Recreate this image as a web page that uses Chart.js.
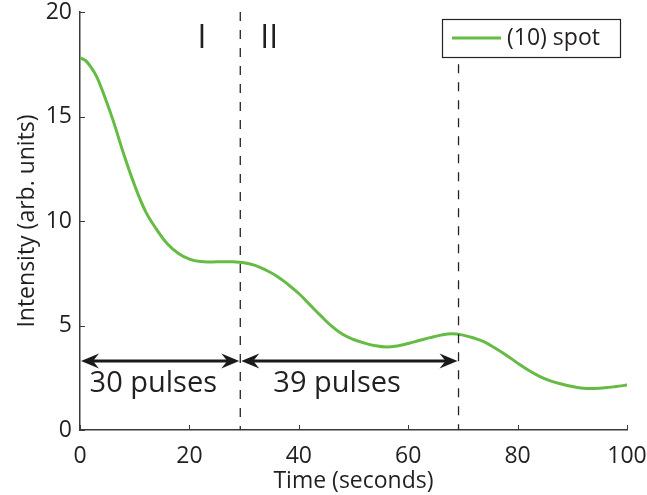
<!DOCTYPE html>
<html>
<head>
<meta charset="utf-8">
<script src="https://cdn.jsdelivr.net/npm/chart.js@4.4.0/dist/chart.umd.min.js"></script>
<style>
html,body{margin:0;padding:0;background:#fff;}
#wrap{width:647px;height:495px;}
</style>
</head>
<body>
<div id="wrap"><canvas id="c" width="647" height="495"></canvas></div>
<script>
// ---- data ----
const timeValues = [0,1,2,3,4,6,8,10,12,14,16,18,20,22,24,26,28,30,32,34,36,38,40,42,44,46,48,50,52,54,56,58,60,62,64,66,68,70,72,74,76,78,80,82,84,86,88,90,92,94,96,98,100];
const intensityValues = [17.8,17.68,17.36,16.93,16.3,14.85,13.2,11.7,10.45,9.6,8.9,8.45,8.18,8.06,8.04,8.05,8.05,8.0,7.88,7.65,7.36,6.97,6.53,6.0,5.47,4.97,4.58,4.33,4.16,4.03,3.97,4.02,4.14,4.28,4.42,4.54,4.6,4.54,4.4,4.2,3.9,3.57,3.2,2.86,2.57,2.35,2.2,2.08,2.0,1.99,2.02,2.08,2.15];
const seriesLabel = '(10) spot';
const xTicks = [0,20,40,60,80,100];
const yTicks = [0,5,10,15,20];
const boundaryX = [29.3, 69.2];
const boundaryTop = [20, 17.5];
const arrowY = 3.3;
const arrowSpans = [[0, 29.3], [29.3, 69.2]];
const regionLabels = [{text:'I', x:22.3, y:18.7}, {text:'II', x:34.6, y:18.7}];
const pulseLabels = [{text:'30 pulses', x:13.4, y:2.2}, {text:'39 pulses', x:47.0, y:2.2}];

const FONT = "'Open Sans', sans-serif";
const TXT = '#231f20';
const AX = '#3a3a3a';
const GREEN = '#66bb44';

const overlay = {
  id: 'overlay',
  afterDatasetsDraw(chart) {
    const ctx = chart.ctx, xs = chart.scales.x, ys = chart.scales.y, ca = chart.chartArea;
    ctx.save();
    // inward ticks
    ctx.strokeStyle = AX; ctx.lineWidth = 1;
    xTicks.forEach(v => { const px = Math.round(xs.getPixelForValue(v)) + 0.5; ctx.beginPath(); ctx.moveTo(px, ca.bottom); ctx.lineTo(px, ca.bottom - 5); ctx.stroke(); });
    yTicks.forEach(v => { const py = Math.round(ys.getPixelForValue(v)) + 0.5; ctx.beginPath(); ctx.moveTo(ca.left, py); ctx.lineTo(ca.left + 5, py); ctx.stroke(); });
    // dashed boundaries
    ctx.strokeStyle = '#222'; ctx.lineWidth = 1.3; ctx.setLineDash([9, 9]);
    boundaryX.forEach((bx, i) => {
      const px = xs.getPixelForValue(bx);
      ctx.beginPath(); ctx.moveTo(px, ys.getPixelForValue(boundaryTop[i])); ctx.lineTo(px, ys.getPixelForValue(0)); ctx.stroke();
    });
    ctx.setLineDash([]);
    // arrows
    const ay = ys.getPixelForValue(arrowY);
    ctx.strokeStyle = '#1a1a1a'; ctx.fillStyle = '#1a1a1a'; ctx.lineWidth = 3;
    const head = (tipX, dir) => {
      const L = 18, W = 7.5, N = 12;
      ctx.beginPath();
      ctx.moveTo(tipX, ay);
      ctx.lineTo(tipX + dir * L, ay - W);
      ctx.lineTo(tipX + dir * N, ay);
      ctx.lineTo(tipX + dir * L, ay + W);
      ctx.closePath(); ctx.fill();
    };
    arrowSpans.forEach(s => {
      const x1 = xs.getPixelForValue(s[0]) + 1, x2 = xs.getPixelForValue(s[1]) - 1;
      ctx.beginPath(); ctx.moveTo(x1 + 8, ay); ctx.lineTo(x2 - 8, ay); ctx.stroke();
      head(x1, 1); head(x2, -1);
    });
    // texts
    ctx.fillStyle = TXT; ctx.textAlign = 'center'; ctx.textBaseline = 'middle';
    ctx.font = "32px " + FONT;
    regionLabels.forEach(t => ctx.fillText(t.text, xs.getPixelForValue(t.x), ys.getPixelForValue(t.y)));
    ctx.font = "29px " + FONT;
    pulseLabels.forEach(t => ctx.fillText(t.text, xs.getPixelForValue(t.x), ys.getPixelForValue(t.y)));
    // legend box
    const bx = ca.right - 185, by = ca.top + 7, bw = 178, bh = 38;
    ctx.fillStyle = '#fff'; ctx.fillRect(bx, by, bw, bh);
    ctx.strokeStyle = '#222'; ctx.lineWidth = 1.2; ctx.strokeRect(bx + 0.5, by + 0.5, bw, bh);
    ctx.strokeStyle = GREEN; ctx.lineWidth = 3;
    ctx.beginPath(); ctx.moveTo(bx + 10, by + 19); ctx.lineTo(bx + 59, by + 19); ctx.stroke();
    ctx.fillStyle = TXT; ctx.textAlign = 'left'; ctx.font = "23px " + FONT;
    ctx.fillText(chart.data.datasets[0].label, bx + 65, by + 19);
    ctx.restore();
  }
};

new Chart(document.getElementById('c'), {
  type: 'line',
  data: {
    datasets: [{
      label: seriesLabel,
      data: timeValues.map((t, i) => ({x: t, y: intensityValues[i]})),
      borderColor: GREEN,
      borderWidth: 3,
      pointRadius: 0,
      fill: false,
      tension: 0.4
    }]
  },
  options: {
    responsive: false,
    animation: false,
    layout: {padding: {top: 12, right: 20, left: 0, bottom: 0}},
    plugins: {legend: {display: false}, tooltip: {enabled: false}},
    scales: {
      x: {
        type: 'linear', min: 0, max: 100,
        afterBuildTicks: s => { s.ticks = xTicks.map(v => ({value: v})); },
        afterFit: s => { s.height = 65; s.paddingLeft = 0; s.paddingRight = 0; },
        grid: {display: false, drawTicks: false},
        border: {display: true, color: AX, width: 1.5},
        ticks: {font: {family: FONT, size: 23}, color: TXT, padding: 13, maxRotation: 0},
        title: {display: true, text: 'Time (seconds)', font: {family: FONT, size: 23}, color: TXT, padding: {top: -9, bottom: 0}}
      },
      y: {
        type: 'linear', min: 0, max: 20,
        afterBuildTicks: s => { s.ticks = yTicks.map(v => ({value: v})); },
        afterFit: s => { s.width = 80; s.paddingTop = 0; s.paddingBottom = 0; },
        grid: {display: false, drawTicks: false},
        border: {display: true, color: AX, width: 1.5},
        ticks: {font: {family: FONT, size: 23}, color: TXT, padding: 8},
        title: {display: true, text: 'Intensity (arb. units)', font: {family: FONT, size: 23}, color: TXT, padding: {top: 14, bottom: 0}}
      }
    }
  },
  plugins: [overlay]
});
</script>
</body>
</html>
